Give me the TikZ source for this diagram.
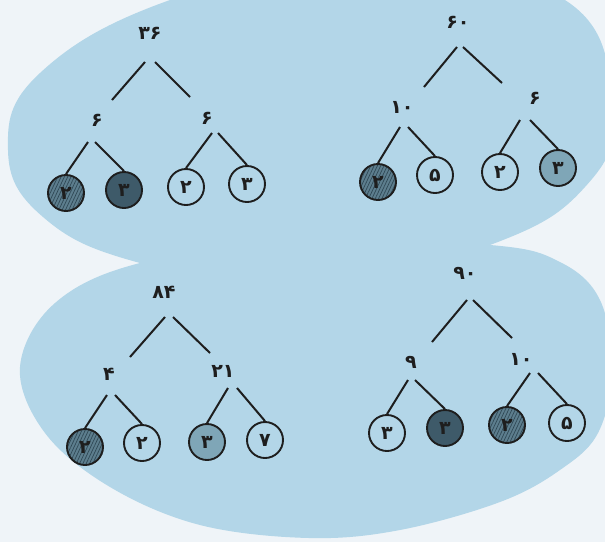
\documentclass[tikz,border=0pt]{standalone}
\usepackage{fontspec}
\newfontfamily\fa[Script=Arabic]{DejaVu Sans}
\usetikzlibrary{calc,patterns.meta}
\definecolor{bg}{HTML}{EFF4F8}
\definecolor{blob}{HTML}{B3D6E8}
\definecolor{ink}{HTML}{1E1E1E}
\definecolor{darkleaf}{HTML}{3E5A69}
\definecolor{midleaf}{HTML}{7FA6B7}
\definecolor{hatchbase}{HTML}{5D7E8E}
\definecolor{hatchline}{HTML}{2F4855}
\begin{document}
\begin{tikzpicture}[x=1pt,y=-1pt,
  num/.style={font=\fa\bfseries\fontsize{19}{19}\selectfont, text=ink, inner sep=1pt},
  leaf/.style={circle, draw=ink, line width=1.9pt, minimum size=36pt, inner sep=0pt,
    font=\fa\bfseries\fontsize{19}{19}\selectfont, text=ink},
  openl/.style={leaf},
  darkl/.style={leaf, fill=darkleaf},
  midl/.style={leaf, fill=midleaf},
  hatchl/.style={leaf, preaction={fill=hatchbase},
    preaction={pattern={Lines[angle=65,distance=3pt,line width=0.7pt]}, pattern color=hatchline}},
  edge/.style={draw=ink, line width=2pt}]
\useasboundingbox (0,0) rectangle (605,542);
\fill[bg] (0,0) rectangle (605,542);
\begin{scope}
\clip (0,0) rectangle (605,542);
\fill[blob] plot[smooth cycle, tension=0.7] coordinates {
  (170,0) (40,73) (8,150) (43,217) (140,263) (310,290) (490,245)
  (585,187) (612,110) (565,0) (370,-45)};
\fill[blob] plot[smooth cycle, tension=0.6] coordinates {
  (140,263) (300,240) (490,245) (560,262) (600,300) (612,370) (598,433)
  (560,470) (500,502) (400,530) (309,538) (200,525) (110,487) (45,433)
  (20,367) (55,303)};
\end{scope}

% tree 36
\node[num] (a) at (150,33) {۳۶};
\node[num] (aL) at (97,120) {۶};
\node[num] (aR) at (207,118) {۶};
\node[hatchl] (a1) at (66,193) {۲};
\node[darkl] (a2) at (124,190) {۳};
\node[openl] (a3) at (186,187) {۲};
\node[openl] (a4) at (247,184) {۳};
\draw[edge] ($(a)+(-5,29)$) -- ($(aL)+(15,-20)$);
\draw[edge] ($(a)+(5,29)$) -- ($(aR)+(-17,-21)$);
\draw[edge] ($(aL)+(-9,22)$) -- (a1.north);
\draw[edge] ($(aL)+(-2,22)$) -- (a2.north);
\draw[edge] ($(aR)+(5,15)$) -- (a3.north);
\draw[edge] ($(aR)+(11,15)$) -- (a4.north);

% tree 60
\node[num] (b) at (458,22) {۶۰};
\node[num] (bL) at (402,107) {۱۰};
\node[num] (bR) at (535,98) {۶};
\node[hatchl] (b1) at (378,182) {۲};
\node[openl] (b2) at (435,175) {۵};
\node[openl] (b3) at (500,172) {۲};
\node[midl] (b4) at (558,168) {۳};
\draw[edge] ($(b)+(-1,25)$) -- ($(bL)+(22,-20)$);
\draw[edge] ($(b)+(5,25)$) -- ($(bR)+(-33,-15)$);
\draw[edge] ($(bL)+(-2,20)$) -- (b1.north);
\draw[edge] ($(bL)+(6,20)$) -- (b2.north);
\draw[edge] ($(bR)+(-15,22)$) -- (b3.north);
\draw[edge] ($(bR)+(-5,22)$) -- (b4.north);

% tree 84
\node[num] (c) at (164,292) {۸۴};
\node[num] (cL) at (109,374) {۴};
\node[num] (cR) at (223,371) {۲۱};
\node[hatchl] (c1) at (85,447) {۲};
\node[openl] (c2) at (142,443) {۲};
\node[midl] (c3) at (207,442) {۳};
\node[openl] (c4) at (265,440) {۷};
\draw[edge] ($(c)+(1,25)$) -- ($(cL)+(21,-17)$);
\draw[edge] ($(c)+(9,25)$) -- ($(cR)+(-13,-18)$);
\draw[edge] ($(cL)+(-2,21)$) -- (c1.north);
\draw[edge] ($(cL)+(6,21)$) -- (c2.north);
\draw[edge] ($(cR)+(5,17)$) -- (c3.north);
\draw[edge] ($(cR)+(14,17)$) -- (c4.north);

% tree 90
\node[num] (d) at (465,273) {۹۰};
\node[num] (dL) at (411,362) {۹};
\node[num] (dR) at (521,359) {۱۰};
\node[openl] (d1) at (387,433) {۳};
\node[darkl] (d2) at (445,428) {۳};
\node[hatchl] (d3) at (507,425) {۲};
\node[openl] (d4) at (567,423) {۵};
\draw[edge] ($(d)+(2,27)$) -- ($(dL)+(21,-20)$);
\draw[edge] ($(d)+(8,27)$) -- ($(dR)+(-9,-21)$);
\draw[edge] ($(dL)+(-3,18)$) -- (d1.north);
\draw[edge] ($(dL)+(4,18)$) -- (d2.north);
\draw[edge] ($(dR)+(9,14)$) -- (d3.north);
\draw[edge] ($(dR)+(17,14)$) -- (d4.north);
\end{tikzpicture}
\end{document}
